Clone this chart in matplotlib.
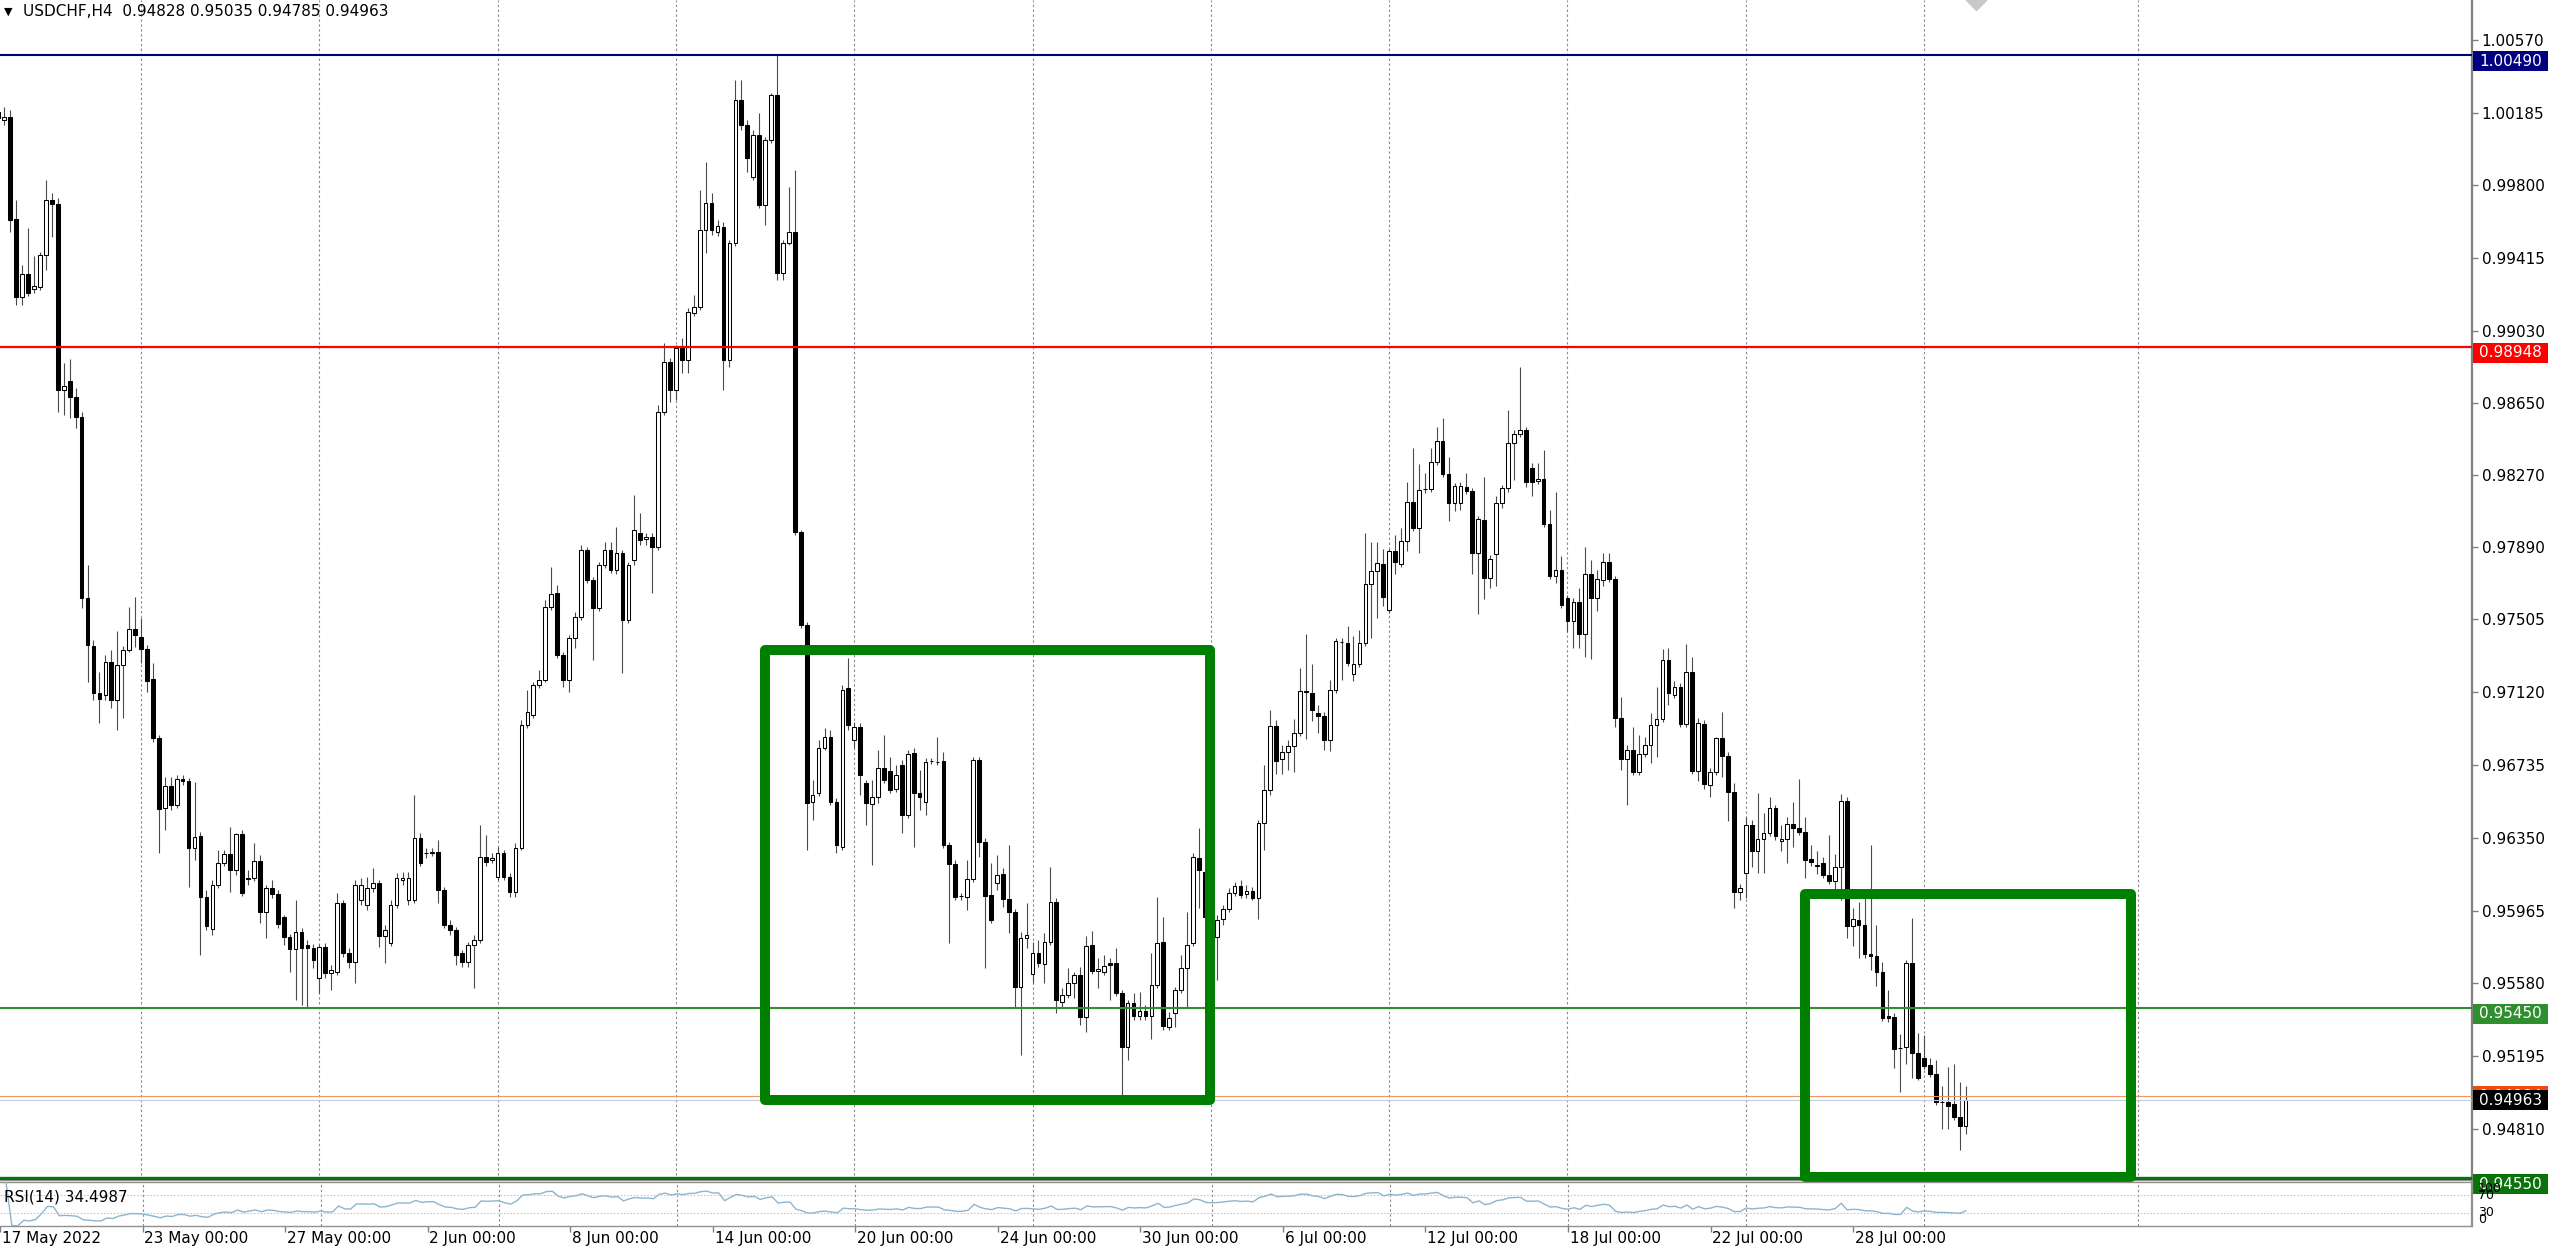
import numpy as np
import pandas as pd
import matplotlib
matplotlib.use("Agg")
import matplotlib.pyplot as plt
from matplotlib.patches import Rectangle
from matplotlib.transforms import blended_transform_factory

plt.rcParams['font.family'] = ['DejaVu Sans']

# ---------------- data (USDCHF H4) ----------------
symbol_title = "USDCHF,H4  0.94828 0.95035 0.94785 0.94963"

opens = [
1.00189, 1.00146, 1.00162, 0.99623, 0.99210, 0.99332, 0.99252, 0.99263, 0.99432, 0.99723,
0.99702, 0.98718, 0.98766, 0.98681, 0.98576, 0.97618, 0.97364, 0.97116, 0.97105, 0.97280,
0.97079, 0.97264, 0.97343, 0.97454, 0.97412, 0.97348, 0.97190, 0.96878, 0.96508, 0.96624,
0.96523, 0.96661, 0.96650, 0.96296, 0.96359, 0.96037, 0.95868, 0.96100, 0.96217, 0.96264,
0.96180, 0.96370, 0.96137, 0.96137, 0.96227, 0.95957, 0.96084, 0.96053, 0.95931, 0.95825,
0.95762, 0.95852, 0.95783, 0.95767, 0.95608, 0.95772, 0.95635, 0.95640, 0.96005, 0.95741,
0.95693, 0.96021, 0.95994, 0.96084, 0.96111, 0.95830, 0.95794, 0.95994, 0.96127, 0.96021,
0.96021, 0.96349, 0.96270, 0.96270, 0.96275, 0.96074, 0.95889, 0.95862, 0.95741, 0.95693,
0.95783, 0.95809, 0.96248, 0.96233, 0.96143, 0.96270, 0.96143, 0.96063, 0.96296, 0.96946,
0.96999, 0.97158, 0.97184, 0.97571, 0.97645, 0.97317, 0.97184, 0.97407, 0.97518, 0.97872,
0.97713, 0.97565, 0.97793, 0.97872, 0.97766, 0.97856, 0.97502, 0.97819, 0.97962, 0.97930,
0.97941, 0.97888, 0.98602, 0.98866, 0.98718, 0.98946, 0.98877, 0.99126, 0.99157, 0.99564,
0.99707, 0.99554, 0.99580, 0.98877, 0.99496, 1.00252, 1.00120, 0.99845, 1.00067, 0.99697,
1.00041, 1.00279, 0.99337, 0.99496, 0.99554, 0.97967, 0.97475, 0.96539, 0.96587, 0.96825,
0.96883, 0.96539, 0.96301, 0.97142, 0.96867, 0.96936, 0.96640, 0.96529, 0.96566, 0.96719,
0.96703, 0.96608, 0.96735, 0.96470, 0.96798, 0.96587, 0.96539, 0.96756, 0.96751, 0.96756,
0.96312, 0.96211, 0.96042, 0.96037, 0.96132, 0.96761, 0.96328, 0.96047, 0.96111, 0.96158,
0.96026, 0.95957, 0.95561, 0.95820, 0.95630, 0.95741, 0.95682, 0.95799, 0.96010, 0.95481,
0.95518, 0.95582, 0.95624, 0.95402, 0.95783, 0.95645, 0.95640, 0.95688, 0.95688, 0.95529,
0.95243, 0.95476, 0.95407, 0.95434, 0.95407, 0.95571, 0.95799, 0.95349, 0.95423, 0.95545,
0.95661, 0.95794, 0.96243, 0.96169, 0.95931, 0.95825, 0.95920, 0.95973, 0.96058, 0.96095,
0.96053, 0.96069, 0.96031, 0.96428, 0.96603, 0.96941, 0.96767, 0.96804, 0.96835, 0.96904,
0.97126, 0.97116, 0.97010, 0.96994, 0.96867, 0.97132, 0.97386, 0.97380, 0.97216, 0.97269,
0.97380, 0.97692, 0.97761, 0.97798, 0.97555, 0.97867, 0.97798, 0.97920, 0.98126, 0.97988,
0.98195, 0.98195, 0.98338, 0.98449, 0.98274, 0.98121, 0.98121, 0.98206, 0.98184, 0.97856,
0.98031, 0.97724, 0.97851, 0.98121, 0.98200, 0.98438, 0.98486, 0.98507, 0.98306, 0.98237,
0.98248, 0.98010, 0.97735, 0.97766, 0.97618, 0.97497, 0.97597, 0.97428, 0.97745, 0.97618,
0.97713, 0.97809, 0.97719, 0.96983, 0.96767, 0.96814, 0.96698, 0.96793, 0.96841, 0.96946,
0.96978, 0.97290, 0.97105, 0.97148, 0.96952, 0.97227, 0.96703, 0.96952, 0.96629, 0.96698,
0.96878, 0.96782, 0.96592, 0.96063, 0.96164, 0.96418, 0.96280, 0.96344, 0.96375, 0.96508,
0.96333, 0.96344, 0.96423, 0.96402, 0.96381, 0.96238, 0.96206, 0.96217, 0.96153, 0.96121,
0.96195, 0.96544, 0.95883, 0.95915, 0.95889, 0.95735, 0.95725, 0.95640, 0.95407, 0.95402,
0.95238, 0.95243, 0.95688, 0.95212, 0.95185, 0.95148, 0.95101, 0.94953, 0.94953, 0.94942,
0.94873, 0.94828]

highs = [
1.00220, 1.00215, 1.00199, 0.99723, 0.99379, 0.99575, 0.99427, 0.99448, 0.99829, 0.99760,
0.99734, 0.98861, 0.98882, 0.98729, 0.98602, 0.97793, 0.97396, 0.97227, 0.97317, 0.97343,
0.97444, 0.97364, 0.97571, 0.97623, 0.97512, 0.97370, 0.97274, 0.96894, 0.96671, 0.96671,
0.96682, 0.96682, 0.96666, 0.96645, 0.96381, 0.96074, 0.96127, 0.96285, 0.96285, 0.96407,
0.96375, 0.96391, 0.96180, 0.96322, 0.96259, 0.96100, 0.96127, 0.96074, 0.95942, 0.95841,
0.96021, 0.95873, 0.95809, 0.95788, 0.95788, 0.95794, 0.95677, 0.96058, 0.96021, 0.95767,
0.96127, 0.96137, 0.96143, 0.96190, 0.96127, 0.95889, 0.96021, 0.96164, 0.96169, 0.96169,
0.96576, 0.96375, 0.96296, 0.96296, 0.96338, 0.96090, 0.95915, 0.95878, 0.95756, 0.95799,
0.95836, 0.96418, 0.96365, 0.96270, 0.96301, 0.96285, 0.96164, 0.96322, 0.96973, 0.97132,
0.97174, 0.97237, 0.97608, 0.97782, 0.97687, 0.97333, 0.97422, 0.97544, 0.97898, 0.97888,
0.97729, 0.97809, 0.97914, 0.97914, 0.97994, 0.97872, 0.97809, 0.98163, 0.98068, 0.97962,
0.97962, 0.98639, 0.98967, 0.98888, 0.98956, 0.98993, 0.99152, 0.99221, 0.99776, 0.99924,
0.99760, 0.99617, 0.99607, 0.99512, 1.00358, 1.00358, 1.00146, 1.00093, 1.00183, 1.00056,
1.00289, 1.00490, 0.99512, 0.99792, 0.99882, 0.97978, 0.97491, 0.96656, 0.96867, 0.96931,
0.96920, 0.96560, 0.97158, 0.97301, 0.96962, 0.96957, 0.96656, 0.96656, 0.96814, 0.96894,
0.96777, 0.96735, 0.96761, 0.96814, 0.96825, 0.96708, 0.96772, 0.96772, 0.96883, 0.96804,
0.96328, 0.96233, 0.96058, 0.96233, 0.96777, 0.96777, 0.96349, 0.96217, 0.96259, 0.96190,
0.96312, 0.95973, 0.95852, 0.96005, 0.95799, 0.95809, 0.95846, 0.96195, 0.96031, 0.95556,
0.95661, 0.95640, 0.95667, 0.95830, 0.95857, 0.95714, 0.95730, 0.95714, 0.95767, 0.95545,
0.95492, 0.95529, 0.95534, 0.95466, 0.95741, 0.96037, 0.95931, 0.95428, 0.95561, 0.95730,
0.95957, 0.96270, 0.96402, 0.96190, 0.95957, 0.95942, 0.95994, 0.96084, 0.96116, 0.96127,
0.96100, 0.96090, 0.96444, 0.96735, 0.97026, 0.96973, 0.96841, 0.96867, 0.96978, 0.97248,
0.97428, 0.97269, 0.97052, 0.97015, 0.97184, 0.97407, 0.97407, 0.97470, 0.97417, 0.97449,
0.97962, 0.97914, 0.97914, 0.97877, 0.97877, 0.97951, 0.97988, 0.98232, 0.98411, 0.98327,
0.98279, 0.98411, 0.98523, 0.98570, 0.98364, 0.98226, 0.98232, 0.98279, 0.98200, 0.98052,
0.98258, 0.97846, 0.98158, 0.98216, 0.98612, 0.98507, 0.98840, 0.98523, 0.98332, 0.98332,
0.98401, 0.98084, 0.98179, 0.97840, 0.97634, 0.97618, 0.97671, 0.97888, 0.97819, 0.97766,
0.97856, 0.97856, 0.97735, 0.97095, 0.96841, 0.96936, 0.96894, 0.96883, 0.97010, 0.97148,
0.97348, 0.97354, 0.97179, 0.97169, 0.97375, 0.97306, 0.96983, 0.96973, 0.96719, 0.96883,
0.97015, 0.96804, 0.96640, 0.96106, 0.96460, 0.96444, 0.96587, 0.96481, 0.96566, 0.96523,
0.96418, 0.96460, 0.96539, 0.96661, 0.96460, 0.96312, 0.96280, 0.96248, 0.96365, 0.96264,
0.96582, 0.96566, 0.95979, 0.96010, 0.96031, 0.96312, 0.95889, 0.95693, 0.95545, 0.95423,
0.95312, 0.95704, 0.95926, 0.95318, 0.95307, 0.95185, 0.95175, 0.95037, 0.95138, 0.95153,
0.95058, 0.95035]

lows = [
1.00120, 1.00120, 0.99554, 0.99168, 0.99168, 0.99215, 0.99231, 0.99247, 0.99353, 0.99528,
0.98602, 0.98586, 0.98570, 0.98517, 0.97565, 0.97174, 0.97079, 0.96957, 0.97079, 0.97036,
0.96920, 0.96983, 0.97333, 0.97359, 0.97274, 0.97121, 0.96857, 0.96270, 0.96391, 0.96497,
0.96508, 0.96629, 0.96090, 0.96233, 0.95730, 0.95862, 0.95836, 0.96084, 0.96201, 0.96063,
0.96153, 0.96042, 0.96100, 0.96121, 0.95899, 0.95820, 0.96031, 0.95873, 0.95783, 0.95640,
0.95492, 0.95466, 0.95450, 0.95661, 0.95529, 0.95608, 0.95545, 0.95624, 0.95719, 0.95661,
0.95582, 0.95994, 0.95968, 0.96063, 0.95772, 0.95688, 0.95778, 0.95979, 0.96100, 0.95994,
0.96005, 0.96201, 0.96243, 0.96254, 0.96005, 0.95873, 0.95836, 0.95677, 0.95667, 0.95667,
0.95556, 0.95794, 0.96201, 0.96217, 0.96127, 0.96127, 0.96037, 0.96037, 0.96285, 0.96931,
0.96983, 0.97142, 0.97174, 0.97555, 0.97301, 0.97148, 0.97121, 0.97354, 0.97502, 0.97698,
0.97290, 0.97549, 0.97777, 0.97750, 0.97745, 0.97221, 0.97486, 0.97793, 0.97898, 0.97898,
0.97645, 0.97872, 0.98586, 0.98655, 0.98665, 0.98808, 0.98808, 0.99110, 0.99141, 0.99443,
0.99538, 0.99533, 0.98718, 0.98840, 0.99480, 1.00093, 0.99871, 0.99829, 0.99681, 0.99591,
1.00025, 0.99300, 0.99300, 0.99485, 0.97951, 0.97460, 0.96285, 0.96444, 0.96571, 0.96814,
0.96523, 0.96270, 0.96285, 0.96920, 0.96825, 0.96576, 0.96418, 0.96206, 0.96534, 0.96640,
0.96587, 0.96592, 0.96375, 0.96455, 0.96301, 0.96497, 0.96470, 0.96740, 0.96735, 0.96296,
0.95794, 0.96021, 0.96021, 0.95968, 0.96116, 0.96248, 0.95661, 0.95899, 0.96074, 0.95984,
0.95846, 0.95450, 0.95201, 0.95767, 0.95582, 0.95667, 0.95582, 0.95783, 0.95423, 0.95455,
0.95503, 0.95503, 0.95360, 0.95323, 0.95630, 0.95556, 0.95624, 0.95492, 0.95513, 0.94990,
0.95175, 0.95386, 0.95386, 0.95386, 0.95286, 0.95556, 0.95333, 0.95333, 0.95349, 0.95529,
0.95450, 0.95778, 0.95979, 0.95915, 0.95836, 0.95598, 0.95889, 0.95957, 0.96042, 0.96031,
0.96031, 0.96021, 0.95920, 0.96285, 0.96576, 0.96687, 0.96687, 0.96708, 0.96698, 0.96888,
0.96872, 0.96968, 0.96904, 0.96814, 0.96809, 0.97116, 0.97184, 0.97259, 0.97179, 0.97253,
0.97364, 0.97407, 0.97512, 0.97576, 0.97539, 0.97745, 0.97782, 0.97867, 0.97972, 0.97856,
0.98173, 0.98179, 0.98322, 0.98258, 0.98025, 0.98078, 0.98084, 0.98168, 0.97745, 0.97534,
0.97613, 0.97671, 0.97682, 0.98094, 0.98179, 0.98242, 0.98470, 0.98206, 0.98158, 0.98221,
0.97994, 0.97719, 0.97698, 0.97565, 0.97438, 0.97354, 0.97354, 0.97306, 0.97296, 0.97549,
0.97682, 0.97703, 0.96936, 0.96708, 0.96523, 0.96682, 0.96682, 0.96777, 0.96745, 0.96777,
0.96962, 0.97052, 0.97089, 0.96936, 0.96936, 0.96687, 0.96650, 0.96608, 0.96566, 0.96682,
0.96671, 0.96439, 0.95979, 0.96021, 0.96031, 0.96195, 0.96164, 0.96164, 0.96359, 0.96338,
0.96280, 0.96217, 0.96301, 0.96365, 0.96137, 0.96201, 0.96158, 0.96137, 0.96106, 0.96074,
0.96021, 0.95820, 0.95778, 0.95714, 0.95714, 0.95651, 0.95566, 0.95381, 0.95376, 0.95132,
0.95005, 0.95153, 0.95080, 0.95069, 0.95127, 0.95085, 0.94937, 0.94810, 0.94810, 0.94857,
0.94699, 0.94785]

closes = [
1.00157, 1.00162, 0.99617, 0.99210, 0.99332, 0.99231, 0.99268, 0.99432, 0.99723, 0.99702,
0.98718, 0.98739, 0.98681, 0.98576, 0.97618, 0.97370, 0.97116, 0.97084, 0.97280, 0.97079,
0.97264, 0.97343, 0.97454, 0.97422, 0.97348, 0.97179, 0.96878, 0.96502, 0.96624, 0.96523,
0.96661, 0.96650, 0.96296, 0.96354, 0.96037, 0.95883, 0.96100, 0.96217, 0.96264, 0.96180,
0.96370, 0.96058, 0.96132, 0.96227, 0.95957, 0.96084, 0.96053, 0.95894, 0.95825, 0.95762,
0.95852, 0.95767, 0.95767, 0.95704, 0.95772, 0.95635, 0.95651, 0.96005, 0.95741, 0.95693,
0.96100, 0.96100, 0.96084, 0.96111, 0.95830, 0.95862, 0.95994, 0.96137, 0.96137, 0.96137,
0.96349, 0.96217, 0.96270, 0.96275, 0.96074, 0.95889, 0.95862, 0.95730, 0.95693, 0.95783,
0.95809, 0.96248, 0.96222, 0.96243, 0.96270, 0.96143, 0.96063, 0.96296, 0.96946, 0.97015,
0.97158, 0.97184, 0.97571, 0.97639, 0.97317, 0.97184, 0.97407, 0.97518, 0.97872, 0.97713,
0.97565, 0.97793, 0.97872, 0.97766, 0.97856, 0.97502, 0.97793, 0.97978, 0.97925, 0.97941,
0.97888, 0.98602, 0.98866, 0.98718, 0.98940, 0.98877, 0.99131, 0.99157, 0.99564, 0.99707,
0.99564, 0.99586, 0.98877, 0.99496, 1.00252, 1.00120, 0.99945, 1.00067, 0.99697, 1.00041,
1.00279, 0.99337, 0.99496, 0.99554, 0.97967, 0.97475, 0.96534, 0.96576, 0.96825, 0.96883,
0.96539, 0.96312, 0.97132, 0.96946, 0.96936, 0.96682, 0.96534, 0.96566, 0.96719, 0.96656,
0.96603, 0.96682, 0.96470, 0.96793, 0.96587, 0.96566, 0.96751, 0.96756, 0.96751, 0.96312,
0.96211, 0.96037, 0.96042, 0.96132, 0.96761, 0.96328, 0.96042, 0.95915, 0.96153, 0.96026,
0.95957, 0.95561, 0.95820, 0.95836, 0.95741, 0.95688, 0.95799, 0.96010, 0.95492, 0.95518,
0.95582, 0.95624, 0.95402, 0.95778, 0.95645, 0.95656, 0.95672, 0.95677, 0.95529, 0.95243,
0.95476, 0.95407, 0.95434, 0.95407, 0.95571, 0.95794, 0.95354, 0.95397, 0.95545, 0.95661,
0.95783, 0.96248, 0.96180, 0.95931, 0.95889, 0.95915, 0.95973, 0.96058, 0.96095, 0.96047,
0.96069, 0.96031, 0.96428, 0.96603, 0.96941, 0.96756, 0.96804, 0.96835, 0.96904, 0.97126,
0.97121, 0.97026, 0.96994, 0.96867, 0.97132, 0.97391, 0.97386, 0.97274, 0.97269, 0.97380,
0.97692, 0.97761, 0.97803, 0.97623, 0.97867, 0.97809, 0.97920, 0.98126, 0.97988, 0.98189,
0.98195, 0.98338, 0.98449, 0.98274, 0.98121, 0.98211, 0.98211, 0.98184, 0.97856, 0.98036,
0.97724, 0.97824, 0.98121, 0.98200, 0.98438, 0.98486, 0.98507, 0.98232, 0.98232, 0.98248,
0.98010, 0.97735, 0.97766, 0.97581, 0.97497, 0.97597, 0.97428, 0.97745, 0.97618, 0.97719,
0.97809, 0.97719, 0.96983, 0.96767, 0.96814, 0.96698, 0.96793, 0.96841, 0.96946, 0.96978,
0.97290, 0.97116, 0.97148, 0.96952, 0.97227, 0.96703, 0.96957, 0.96634, 0.96698, 0.96878,
0.96782, 0.96592, 0.96063, 0.96084, 0.96418, 0.96280, 0.96344, 0.96375, 0.96508, 0.96359,
0.96344, 0.96423, 0.96402, 0.96381, 0.96233, 0.96222, 0.96201, 0.96153, 0.96121, 0.96195,
0.96544, 0.95883, 0.95920, 0.95889, 0.95735, 0.95725, 0.95640, 0.95397, 0.95397, 0.95233,
0.95238, 0.95688, 0.95212, 0.95080, 0.95143, 0.95101, 0.94953, 0.94953, 0.94931, 0.94873,
0.94828, 0.94963]

ask_price = 0.94984

price_ticks = [1.00570, 1.00185, 0.99800, 0.99415, 0.99030, 0.98650, 0.98270, 0.97890,
               0.97505, 0.97120, 0.96735, 0.96350, 0.95965, 0.95580, 0.95195, 0.94810]

# horizontal line objects: price, colour, width (pt)
level_prices = [1.00490, 0.98948, 0.95450, 0.94550]
level_colors = ['#000080', '#FF0000', '#2F8F2F', '#0B720B']
level_widths = [1.5, 1.6, 1.5, 2.4]

# rectangle objects: start bar, end bar, low price, high price
box_start = [129.0, 304.0]
box_end = [203.9, 358.8]
box_low = [0.94963, 0.94555]
box_high = [0.97345, 0.96052]

date_label_bars = [0, 24, 48, 72, 96, 120, 144, 168, 192, 216, 240, 264, 288, 312]
date_labels = ["17 May 2022", "23 May 00:00", "27 May 00:00", "2 Jun 00:00", "8 Jun 00:00",
               "14 Jun 00:00", "20 Jun 00:00", "24 Jun 00:00", "30 Jun 00:00", "6 Jul 00:00",
               "12 Jul 00:00", "18 Jul 00:00", "22 Jul 00:00", "28 Jul 00:00"]
grid_bars = [24, 54, 84, 114, 144, 174, 204, 234, 264, 294, 324, 360]

rsi_label = "RSI(14) 34.4987"
rsi_levels = [70, 30]
rsi_scale = [100, 70, 30, 0]

# ---------------- figure layout ----------------
W, H = 2560, 1253
DPI = 100
MAIN_BOTTOM = 1180
RSI_TOP, RSI_BOT = 1182, 1226
AXIS_X = 2472

fig = plt.figure(figsize=(W / DPI, H / DPI), dpi=DPI)
fig.patch.set_facecolor('white')
ax = fig.add_axes([0, 1 - MAIN_BOTTOM / H, AXIS_X / W, MAIN_BOTTOM / H])
ax2 = fig.add_axes([0, 1 - RSI_BOT / H, AXIS_X / W, (RSI_BOT - RSI_TOP) / H])
ax.set_zorder(1)
ax2.set_zorder(2)
ax2.patch.set_alpha(0)

o = np.array(opens); hh = np.array(highs); ll = np.array(lows); c = np.array(closes)
n = len(c)
idx = np.arange(n)

XMIN, XMAX = 0.27, 416.2
YMIN, YMAX = 0.94540, 1.00781
ax.set_xlim(XMIN, XMAX)
ax.set_ylim(YMIN, YMAX)
ax2.set_xlim(XMIN, XMAX)
ax2.set_ylim(0, 100)
ppx = (YMAX - YMIN) / MAIN_BOTTOM          # price per pixel
bpx = (XMAX - XMIN) / AXIS_X               # bars per pixel

FS = 11

# grid
for b in grid_bars:
    ax.axvline(b, color='#8c8c8c', lw=0.8, ls=(0, (2.2, 2.2)), zorder=1)
    ax2.axvline(b, color='#8c8c8c', lw=0.8, ls=(0, (2.2, 2.2)), zorder=1)

# candles
up = c >= o
ax.vlines(idx, np.minimum(ll, np.minimum(o, c)), np.maximum(hh, np.maximum(o, c)),
          color='#4a4a4a', lw=0.8, zorder=3)
ax.bar(idx, np.abs(c - o), bottom=np.minimum(o, c), width=0.62,
       color=np.where(up, 'white', 'black'), edgecolor='black', linewidth=0.75, zorder=4)

# bid / ask lines
ax.axhline(c[-1], color='#c4ccd4', lw=0.8, zorder=5)
ax.axhline(ask_price, color='#ee9466', lw=0.8, zorder=5)

# level lines
for p, col, lw in zip(level_prices, level_colors, level_widths):
    ax.axhline(p, color=col, lw=lw, zorder=6)

# boxes
for x0, x1, y0, y1 in zip(box_start, box_end, box_low, box_high):
    r = Rectangle((x0, y0), x1 - x0, y1 - y0, fill=False, edgecolor='#008000',
                  linewidth=7.2, joinstyle='round', zorder=7, clip_on=False)
    ax.add_patch(r)

# shift marker at top
ax.plot([n + 0.8], [YMAX], marker='D', ms=10, color='#c8c8c8', mec='#c8c8c8', zorder=8)

# title
ax.text(4 / AXIS_X, 1 - 12 / MAIN_BOTTOM, "\u25bc", transform=ax.transAxes, fontsize=8,
        ha='left', va='center', color='black')
ax.text(23 / AXIS_X, 1 - 12 / MAIN_BOTTOM, symbol_title, transform=ax.transAxes,
        fontsize=FS, ha='left', va='center', color='black')

# axes styling (main)
for s in ['left', 'top']:
    ax.spines[s].set_visible(False)
ax.spines['right'].set_color('#808080'); ax.spines['right'].set_linewidth(1.6)
ax.spines['bottom'].set_color('#909090'); ax.spines['bottom'].set_linewidth(1.0)
ax.set_xticks([])
ax.yaxis.tick_right()
ax.set_yticks(price_ticks)
ax.set_yticklabels([f"{v:.5f}" for v in price_ticks])
ax.tick_params(axis='y', length=4, width=1, color='#808080', pad=3, labelsize=FS,
               labelcolor='black')

# right-side price labels
trans = blended_transform_factory(ax.transAxes, ax.transData)
LBL_W = 75 / AXIS_X


def right_label(price, color, up_px, down_px, z):
    ax.add_patch(Rectangle((1.0004, price - down_px * ppx), LBL_W, (up_px + down_px) * ppx,
                           transform=trans, facecolor=color, edgecolor='none',
                           clip_on=False, zorder=z))
    ax.text(1.0004 + LBL_W / 2, price + (up_px - down_px) / 2 * ppx, f"{price:.5f}",
            transform=trans, color='white', ha='center', va='center', fontsize=FS,
            clip_on=False, zorder=z + 0.5)


for p, col in zip(level_prices, level_colors):
    right_label(p, col, 4, 16, 20)
right_label(ask_price, '#f04a14', 10, 10, 21)
right_label(c[-1], '#000000', 10, 10, 22)

# ---------------- RSI panel ----------------
s = pd.Series(c)
d = s.diff()
gain = d.clip(lower=0)
loss = -d.clip(upper=0)
ag = gain.ewm(alpha=1 / 14, adjust=True).mean()
al = loss.ewm(alpha=1 / 14, adjust=True).mean()
rsi = 100 - 100 / (1 + ag / al)
ax2.plot(idx, rsi.values, color='#8db5d0', lw=1.0, zorder=3)
for lv in rsi_levels:
    ax2.axhline(lv, color='#c8c8c8', lw=0.8, ls=(0, (1.5, 1.5)), zorder=2)

ax2.spines['left'].set_visible(False)
for sname in ['top', 'bottom', 'right']:
    ax2.spines[sname].set_color('#909090')
    ax2.spines[sname].set_linewidth(1.0)
ax2.spines['right'].set_linewidth(1.6)
ax2.set_yticks([])
ax2.set_xticks(date_label_bars)
ax2.set_xticklabels([])
ax2.tick_params(axis='x', length=4, width=1, color='#808080', direction='out')

ax2.text(2 * bpx + XMIN, 66, rsi_label, fontsize=FS, ha='left', va='center', color='black')

# RSI scale labels (squeezed into the small window as in the reference)
t2 = blended_transform_factory(ax2.transAxes, ax2.transData)
xr = 1 + 6 / AXIS_X
scale_va = ['top', 'center', 'center', 'bottom']
for v, va in zip(rsi_scale, scale_va):
    ax2.text(xr, v, str(v), transform=t2, fontsize=9, ha='left', va=va, clip_on=False)

# date labels
t3 = blended_transform_factory(ax2.transData, ax2.transAxes)
for b, lab in zip(date_label_bars, date_labels):
    ax2.text(b + 0.3, -12 / (RSI_BOT - RSI_TOP), lab, transform=t3, fontsize=FS,
             ha='left', va='center', color='black', clip_on=False)

fig.savefig("out.png", dpi=DPI)
